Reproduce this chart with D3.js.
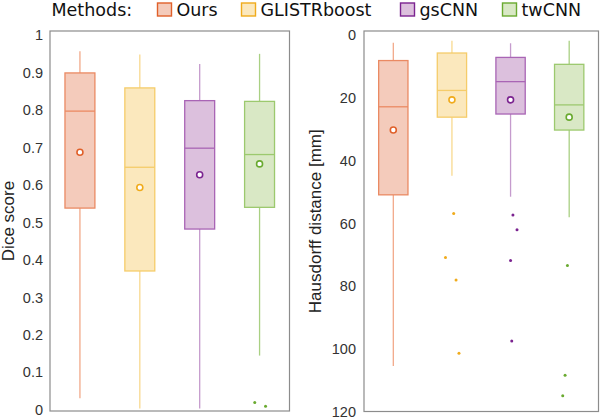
<!DOCTYPE html>
<html><head><meta charset="utf-8">
<script src="https://cdn.jsdelivr.net/npm/d3@7"></script>
<style>body{margin:0;background:#fff}svg{display:block}</style>
</head><body>
<svg id="c" width="600" height="419"></svg>
<script>
// ---- data ----
const methods = ["Ours", "GLISTRboost", "gsCNN", "twCNN"];

const diceMin    = [0.029, 0.002, 0.002, 0.143];
const diceQ1     = [0.537, 0.369, 0.481, 0.539];
const diceMedian = [0.796, 0.646, 0.697, 0.680];
const diceQ3     = [0.898, 0.858, 0.824, 0.822];
const diceMax    = [0.956, 0.947, 0.922, 0.949];
const diceMean   = [0.686, 0.592, 0.626, 0.655];
// [method index, value, jitter (in category units)]
const diceOutliers = [[3, 0.018, -0.08], [3, 0.008, 0.10]];

const hdMin    = [2.7, 2.1, 2.9, 2.1];
const hdQ1     = [8.4, 6.0, 7.4, 9.6];
const hdMedian = [23.1, 17.9, 15.1, 22.5];
const hdQ3     = [51.1, 26.4, 25.4, 30.5];
const hdMax    = [105.5, 45.0, 51.7, 58.2];
const hdMean   = [30.5, 20.9, 20.9, 26.4];
const hdOutliers = [
  [1, 57.0, 0.03], [1, 71.0, -0.11], [1, 78.2, 0.07], [1, 101.5, 0.12],
  [2, 57.5, 0.04], [2, 62.2, 0.11], [2, 72.0, 0.0], [2, 97.6, 0.02],
  [3, 73.6, -0.03], [3, 108.5, -0.07], [3, 115.0, -0.11]
];

const diceTicks = [0, 0.1, 0.2, 0.3, 0.4, 0.5, 0.6, 0.7, 0.8, 0.9, 1];
const diceTickLabels = ["0", "0.1", "0.2", "0.3", "0.4", "0.5", "0.6", "0.7", "0.8", "0.9", "1"];
const hdTicks = [0, 20, 40, 60, 80, 100, 120];

// ---- styles ----
const fillC    = ["#f4cbbb", "#fbe8bd", "#dcc0dd", "#d9e8c5"];
const strokeC  = ["#ea8a63", "#f5cc6a", "#a965b5", "#9cc96e"];
const whiskerC = ["#f2a98a", "#f8d98f", "#c59bcd", "#a9d083"];
const darkC    = ["#e0602a", "#f0ab1c", "#7b2390", "#6aaa30"];

const svg = d3.select("#c");
const tickFont = "'Liberation Sans', Arial, sans-serif";

function panel(cfg) {
  const g = svg.append("g");
  const x = d3.scaleBand().domain(d3.range(methods.length)).range([cfg.x0, cfg.x1]).paddingInner(0).paddingOuter(0);
  const y = d3.scaleLinear().domain(cfg.domain).range([cfg.yBottom, cfg.yTop]);
  const bw = x.bandwidth();
  const cx = i => x(i) + bw / 2;

  // frame
  g.append("rect").attr("x", cfg.x0).attr("y", cfg.yTop)
    .attr("width", cfg.x1 - cfg.x0).attr("height", cfg.yBottom - cfg.yTop)
    .attr("fill", "none").attr("stroke", "#8c8c8c").attr("stroke-width", 1.2);

  // y axis labels via d3 axis
  const axis = d3.axisLeft(y).tickValues(cfg.ticks).tickSize(0).tickPadding(cfg.pad)
    .tickFormat((d, i) => cfg.labels ? cfg.labels[i] : String(d));
  const ag = g.append("g").attr("transform", `translate(${cfg.x0},0)`).call(axis);
  ag.select(".domain").remove();
  ag.selectAll("text").attr("font-family", tickFont).attr("font-size", 14.5).attr("fill", "#333").attr("dy", "0.36em");

  // axis title
  g.append("text")
    .attr("transform", `translate(${cfg.titleX},${(cfg.yTop + cfg.yBottom) / 2}) rotate(-90)`)
    .attr("text-anchor", "middle").attr("font-family", tickFont).attr("font-size", 17)
    .attr("fill", "#222").text(cfg.title);

  const d = cfg.data;
  methods.forEach((m, i) => {
    const c = cx(i);
    // whiskers
    g.append("line").attr("x1", c).attr("x2", c).attr("y1", y(d.max[i])).attr("y2", y(d.q3[i]))
      .attr("stroke", whiskerC[i]).attr("stroke-width", 1.3);
    g.append("line").attr("x1", c).attr("x2", c).attr("y1", y(d.q1[i])).attr("y2", y(d.min[i]))
      .attr("stroke", whiskerC[i]).attr("stroke-width", 1.3);
    // box
    const yt = Math.min(y(d.q1[i]), y(d.q3[i])), yb = Math.max(y(d.q1[i]), y(d.q3[i]));
    g.append("rect").attr("x", c - bw / 4).attr("width", bw / 2).attr("y", yt).attr("height", yb - yt)
      .attr("fill", fillC[i]).attr("stroke", strokeC[i]).attr("stroke-width", 1.3);
    // median
    g.append("line").attr("x1", c - bw / 4).attr("x2", c + bw / 4)
      .attr("y1", y(d.median[i])).attr("y2", y(d.median[i]))
      .attr("stroke", strokeC[i]).attr("stroke-width", 1.3);
    // mean
    g.append("circle").attr("cx", c).attr("cy", y(d.mean[i])).attr("r", 3)
      .attr("fill", "#fff").attr("stroke", darkC[i]).attr("stroke-width", 1.6);
  });
  d.outliers.forEach(([i, v, j]) => {
    g.append("circle").attr("cx", cx(i) + j * bw).attr("cy", y(v)).attr("r", 1.5).attr("fill", darkC[i]);
  });
}

panel({
  x0: 50, x1: 289.5, yTop: 31, yBottom: 411, domain: [-0.005, 1.01],
  ticks: diceTicks, labels: diceTickLabels, pad: 7, title: "Dice score", titleX: 14,
  data: {min: diceMin, q1: diceQ1, median: diceMedian, q3: diceQ3, max: diceMax, mean: diceMean, outliers: diceOutliers}
});
panel({
  x0: 364, x1: 598.5, yTop: 31, yBottom: 411.5, domain: [120, -1],
  ticks: hdTicks, pad: 8, title: "Hausdorff distance [mm]", titleX: 320.5,
  data: {min: hdMin, q1: hdQ1, median: hdMedian, q3: hdQ3, max: hdMax, mean: hdMean, outliers: hdOutliers}
});

// legend
const legFont = "'DejaVu Sans', Verdana, sans-serif";
const leg = svg.append("g");
leg.append("text").attr("x", 51.5).attr("y", 15.5).attr("font-family", legFont).attr("font-size", 17.5)
  .attr("fill", "#111").text("Methods:");
const legX = [157.5, 241.5, 400.5, 502.5];
methods.forEach((m, i) => {
  leg.append("rect").attr("x", legX[i]).attr("y", 3).attr("width", 14).attr("height", 13)
    .attr("fill", fillC[i]).attr("stroke", darkC[i]).attr("stroke-width", 1.4);
  leg.append("text").attr("x", legX[i] + 19).attr("y", 15.5).attr("font-family", legFont)
    .attr("font-size", 17.5).attr("fill", "#111").text(m);
});
</script>
</body></html>
